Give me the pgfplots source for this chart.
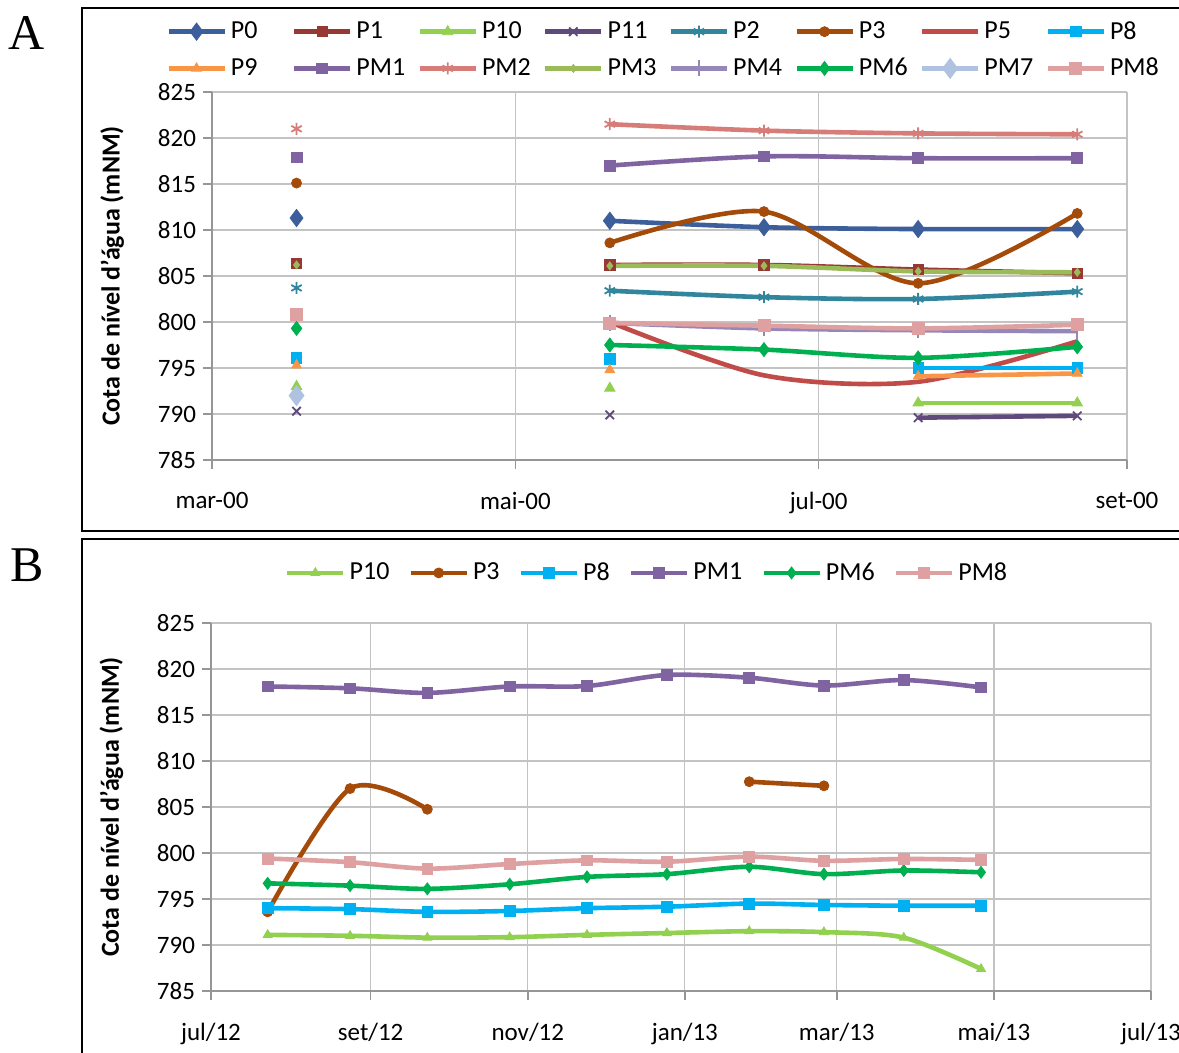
\documentclass[border=0pt]{standalone}
\usepackage{fontspec}
\setmainfont{Carlito}
\newfontfamily\labfont{Liberation Serif}
\usepackage{pgfplots}
\pgfplotsset{compat=1.18}
\usepackage{pgfplotstable}

\definecolor{cP0}{RGB}{60,95,155}
\definecolor{cP1}{RGB}{152,55,52}
\definecolor{cP10}{RGB}{146,208,80}
\definecolor{cP11}{RGB}{96,74,123}
\definecolor{cP2}{RGB}{49,133,156}
\definecolor{cP3}{RGB}{165,75,10}
\definecolor{cP5}{RGB}{192,75,72}
\definecolor{cP8}{RGB}{0,176,240}
\definecolor{cP9}{RGB}{247,150,70}
\definecolor{cPM1}{RGB}{128,100,162}
\definecolor{cPM2}{RGB}{214,125,122}
\definecolor{cPM3}{RGB}{155,187,89}
\definecolor{cPM4}{RGB}{150,135,185}
\definecolor{cPM6}{RGB}{0,176,80}
\definecolor{cPM7}{RGB}{175,195,225}
\definecolor{cPM8}{RGB}{222,160,160}
\definecolor{gridgray}{RGB}{195,195,195}
\definecolor{axisgray}{RGB}{150,150,150}

% Panel A: x = days since 1 March 2000
\pgfplotstableread{
x   P0    P1    P10   P11   P2    P3    P5    P8    P9    PM1   PM2   PM3   PM4   PM6   PM7   PM8
17  811.3 806.4 793.0 790.3 803.7 815.1 nan   796.1 795.3 817.9 821.0 806.2 nan   799.3 792.0 800.8
50  nan   nan   nan   nan   nan   nan   nan   nan   nan   nan   nan   nan   nan   nan   nan   nan
80  811.0 806.2 792.8 789.9 803.4 808.6 800.0 796.0 794.8 817.0 821.5 806.1 799.9 797.5 nan   799.9
111 810.3 806.2 nan   nan   802.7 812.0 794.2 nan   nan   818.0 820.8 806.1 799.3 797.0 nan   799.6
142 810.1 805.7 791.2 789.6 802.5 804.2 793.5 795.0 794.1 817.8 820.5 805.5 799.1 796.1 nan   799.3
174 810.1 805.3 791.2 789.8 803.3 811.8 797.9 795.0 794.4 817.8 820.4 805.4 799.0 797.3 nan   799.7
}\tabA

% isolated P5 reading of March 2000
\pgfplotstableread{
x  y
17 801.1
}\tabAfive

% Panel B: x = days since 1 July 2012
\pgfplotstableread{
x   P10    P3     P8     PM1    PM6    PM8
22  791.1  793.6  794.0  818.1  796.7  799.4
54  791.0  807.0  793.9  817.9  796.45 799.0
84  790.8  804.75 793.6  817.4  796.1  798.3
116 790.85 nan    793.7  818.1  796.6  798.8
146 791.1  nan    794.0  818.15 797.4  799.2
177 791.3  nan    794.16 819.35 797.7  799.05
209 791.5  807.75 794.5  819.05 798.5  799.6
238 791.4  807.3  794.35 818.2  797.7  799.15
269 790.8  nan    794.27 818.8  798.1  799.35
299 787.4  nan    794.27 818.0  797.9  799.25
}\tabB

\pgfplotsset{
  common/.style={
    scale only axis,
    anchor=south west,
    ymin=785, ymax=825,
    ytick={785,790,...,825},
    axis x line*=bottom, axis y line*=left,
    axis line style={draw=axisgray, line width=0.8pt},
    grid=major,
    grid style={draw=gridgray, line width=0.6pt},
    tick align=outside,
    major tick length=4.5pt,
    tick style={draw=axisgray, line width=0.8pt},
    ticklabel style={font=\fontsize{12.5}{14}\selectfont},
    /pgf/number format/assume math mode=true,
    xticklabel style={yshift=-8pt},
    ylabel={Cota de nível d'água (mNM)},
    ylabel style={font=\fontsize{13}{15}\selectfont\bfseries, anchor=center},
    unbounded coords=jump,
    legend cell align=left,
    legend image code/.code={\draw[mark repeat=2,mark phase=2,##1] plot coordinates {(0pt,0pt) (14pt,0pt) (28pt,0pt)};},
    every axis plot/.append style={line width=2.3pt, smooth},
  },
  mk/.style={mark options={solid, line width=0.4pt}},
  mkt/.style={mark options={solid, line width=0.9pt}},
}

\begin{document}
\begin{tikzpicture}
\useasboundingbox (0,0) rectangle (589.5pt,526.5pt);
\clip (0,0) rectangle (589.5pt,526.5pt);
\draw[line width=1.2pt] (41pt,522.5pt) rectangle (620pt,261pt);
\draw[line width=1.2pt] (41pt,257pt) rectangle (620pt,-20pt);
\node[font=\labfont\fontsize{25}{25}\selectfont] at (13.5pt,510pt) {A};
\node[font=\labfont\fontsize{25}{25}\selectfont] at (13.5pt,244pt) {B};

% ---------------- Panel A ----------------
\begin{axis}[common,
  at={(106pt,296.5pt)},
  width=457.5pt, height=184pt,
  xmin=0, xmax=184,
  xtick={0,61,122,184},
  xticklabels={mar-00,mai-00,jul-00,set-00},
  ylabel style={at={(axis description cs:-0.109,0.5)}},
  legend columns=8,
  legend style={draw=none, fill=none,
    at={(axis description cs:-0.057,1.215)}, anchor=north west,
    font=\fontsize{13}{15}\selectfont,
    nodes={text width=24pt, inner xsep=2pt},
    row sep=4pt,
    /tikz/every even column/.append style={column sep=4.5pt}},
]
\addplot[color=cP0, mark=diamond*, mark size=4.3pt, mk] table[x=x,y=P0]{\tabA};
\addlegendentry{P0}
\addplot[color=cP1, mark=square*, mark size=2.6pt, mk] table[x=x,y=P1]{\tabA};
\addlegendentry{P1}
\addplot[color=cP10, mark=triangle*, mark size=3pt, mk] table[x=x,y=P10]{\tabA};
\addlegendentry{P10}
\addplot[color=cP11, mark=x, mark size=3pt, mkt] table[x=x,y=P11]{\tabA};
\addlegendentry{P11}
\addplot[color=cP2, mark=asterisk, mark size=3pt, mkt] table[x=x,y=P2]{\tabA};
\addlegendentry{P2}
\addplot[color=cP3, mark=*, mark size=2.5pt, mk] table[x=x,y=P3]{\tabA};
\addlegendentry{P3}
\addplot[color=cP5, no marks] table[x=x,y=P5]{\tabA};
\addlegendentry{P5}
\addplot[color=cP5, only marks, mark=square*, mark size=1.5pt, mk, forget plot] table[x=x,y=y]{\tabAfive};
\addplot[color=cP8, mark=square*, mark size=2.6pt, mk] table[x=x,y=P8]{\tabA};
\addlegendentry{P8}
\addplot[color=cP9, mark=triangle*, mark size=2.8pt, mk] table[x=x,y=P9]{\tabA};
\addlegendentry{P9}
\addplot[color=cPM1, mark=square*, mark size=2.7pt, mk] table[x=x,y=PM1]{\tabA};
\addlegendentry{PM1}
\addplot[color=cPM2, mark=asterisk, mark size=3pt, mkt] table[x=x,y=PM2]{\tabA};
\addlegendentry{PM2}
\addplot[color=cPM3, mark=diamond*, mark size=2pt, mk] table[x=x,y=PM3]{\tabA};
\addlegendentry{PM3}
\addplot[color=cPM4, mark=|, mark size=4pt, mkt] table[x=x,y=PM4]{\tabA};
\addlegendentry{PM4}
\addplot[color=cPM6, mark=diamond*, mark size=3.5pt, mk] table[x=x,y=PM6]{\tabA};
\addlegendentry{PM6}
\addplot[color=cPM7, mark=diamond*, mark size=5pt, mk] table[x=x,y=PM7]{\tabA};
\addlegendentry{PM7}
\addplot[color=cPM8, mark=square*, mark size=3pt, mk] table[x=x,y=PM8]{\tabA};
\addlegendentry{PM8}
\end{axis}

% ---------------- Panel B ----------------
\begin{axis}[common,
  at={(105.5pt,31pt)},
  width=470pt, height=184pt,
  xmin=0, xmax=365,
  xtick={0,62,123,184,243,304,365},
  xticklabels={jul/12,set/12,nov/12,jan/13,mar/13,mai/13,jul/13},
  ylabel style={at={(axis description cs:-0.106,0.5)}},
  legend columns=6,
  legend style={draw=none, fill=none,
    at={(axis description cs:0.465,1.136)}, anchor=center,
    font=\fontsize{13}{15}\selectfont,
    /tikz/every even column/.append style={column sep=7.5pt}},
]
\addplot[color=cP10, mark=triangle*, mark size=2.6pt, mk] table[x=x,y=P10]{\tabB};
\addlegendentry{P10}
\addplot[color=cP3, mark=*, mark size=2.5pt, mk] table[x=x,y=P3]{\tabB};
\addlegendentry{P3}
\addplot[color=cP8, mark=square*, mark size=2.7pt, mk] table[x=x,y=P8]{\tabB};
\addlegendentry{P8}
\addplot[color=cPM1, mark=square*, mark size=2.7pt, mk] table[x=x,y=PM1]{\tabB};
\addlegendentry{PM1}
\addplot[color=cPM6, mark=diamond*, mark size=3pt, mk] table[x=x,y=PM6]{\tabB};
\addlegendentry{PM6}
\addplot[color=cPM8, mark=square*, mark size=2.7pt, mk] table[x=x,y=PM8]{\tabB};
\addlegendentry{PM8}
\end{axis}
\end{tikzpicture}
\end{document}
